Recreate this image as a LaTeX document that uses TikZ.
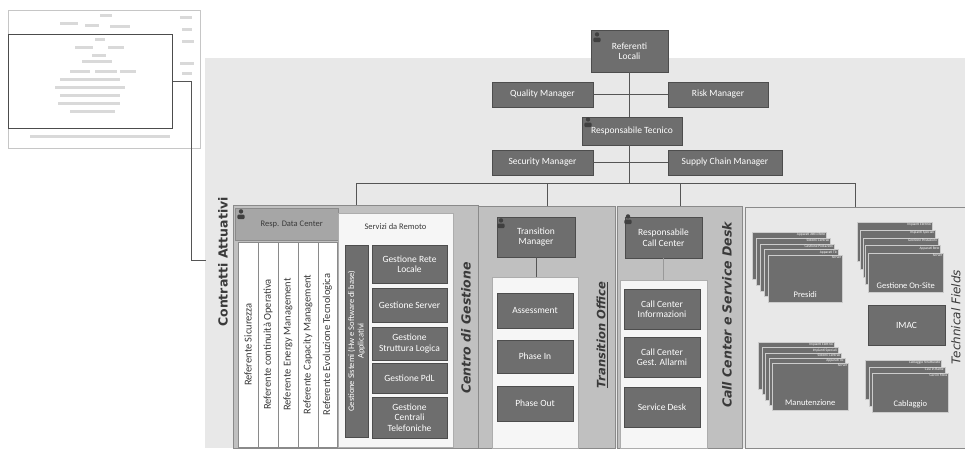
\documentclass[tikz,border=0pt]{standalone}
\usepackage{fontspec}
\setmainfont{Carlito}
\newfontfamily\titlefont{DejaVu Sans}
\definecolor{bgfill}{HTML}{E8E8E8}
\definecolor{boxfill}{HTML}{6E6E6E}
\definecolor{boxline}{HTML}{4D4D4D}
\definecolor{panelfill}{HTML}{C0C0C0}
\definecolor{panelline}{HTML}{8A8A8A}
\definecolor{headfill}{HTML}{A6A6A6}
\definecolor{wfill}{HTML}{F6F6F6}
\definecolor{txtdark}{HTML}{3A3A3A}
\definecolor{linec}{HTML}{555555}
\begin{document}
\begin{tikzpicture}[x=1pt,y=-1pt,
 dbox/.style={fill=boxfill,draw=boxline,line width=0.6pt,text=white,font=\fontsize{9.5}{10.5}\selectfont,align=center,inner sep=1pt},
 panel/.style={fill=panelfill,draw=panelline,line width=0.8pt,anchor=north west,inner sep=0pt},
 wpanel/.style={fill=wfill,draw=panelline!70,line width=0.5pt,anchor=north west,inner sep=0pt},
 colbox/.style={fill=white,draw=panelline,line width=0.5pt,rotate=90,text=txtdark,font=\fontsize{10.5}{11.5}\selectfont,inner sep=1pt},
 vtitle/.style={rotate=90,text=txtdark,inner sep=0pt},
 conn/.style={draw=linec,line width=0.7pt},
 card/.style={fill=boxfill,draw=white!80!black,line width=0.6pt,anchor=north west,inner sep=0pt},
 cardlab/.style={text=white,font=\fontsize{3.6}{4}\selectfont,inner sep=1.2pt,anchor=north east},
 cardmain/.style={text=white,font=\fontsize{8.5}{9.5}\selectfont,inner sep=0pt,anchor=south},
 tiny/.style={fill=gray!30},
 person/.pic={\fill[black!75] (0,-2.6) circle (2.2); \fill[black!75,rounded corners=1.2pt] (-3.6,5.2) rectangle (3.6,0.6);}
]
\useasboundingbox (0,0) rectangle (965,448);
\fill[white] (0,0) rectangle (965,448);
\fill[bgfill] (205,58) rectangle (965,448);

% ---------- thumbnail ----------
\node[draw=gray!45,line width=0.6pt,minimum width=192,minimum height=138,anchor=north west,inner sep=0pt] (thumbout) at (8,10) {};
\foreach \x/\y/\w in {100/14/12,60/22/18,85/24/14,110/25/20,
  95/38/10,75/46/18,108/46/16,92/54/14,82/60/30,70/70/20,95/70/22,120/70/16,
  60/78/60,55/86/70,60/94/60,58/102/62,70/110/45,
  180/16/12,182/28/10,182/40/12,180/62/14,182/72/10,30/135/140}
  \fill[tiny] (\x,\y) rectangle ++(\w,3);
\node[draw=black!70,line width=1.3pt,minimum width=164,minimum height=94,anchor=north west,inner sep=0pt] (thumb) at (8,34) {};
\coordinate (ca) at (206,260);
\draw[conn,line width=1pt] (thumb.east) -- ++(18,0) |- (ca);
\node[rotate=90,text=txtdark,font=\titlefont\fontsize{12.5}{14}\bfseries\selectfont,inner sep=0pt] (contr) at (223,262) {Contratti Attuativi};

% ---------- top hierarchy ----------
\node[dbox,minimum width=77,minimum height=42] (refl) at (629.5,51) {Referenti\\Locali};
\node[dbox,minimum width=101,minimum height=25] (qm) at (542.5,94.5) {Quality Manager};
\node[dbox,minimum width=100,minimum height=25] (rm) at (718,94.5) {Risk Manager};
\node[dbox,minimum width=100,minimum height=28] (rt) at (632,131) {Responsabile Tecnico};
\node[dbox,minimum width=101,minimum height=25] (sm) at (542.5,162.5) {Security Manager};
\node[dbox,minimum width=114,minimum height=25] (scm) at (725,162.5) {Supply Chain Manager};
\coordinate (busy) at (0,183);

% ---------- panels ----------
\node[panel,minimum width=245,minimum height=243] (centro) at (233,205) {};
\node[panel,minimum width=137,minimum height=242] (trans) at (478,206) {};
\node[panel,minimum width=125,minimum height=242] (callc) at (617,206) {};
\node[panel,fill=bgfill,minimum width=220,minimum height=241] (techf) at (745,207) {};

\draw[conn] (qm) -- (rm);
\draw[conn] (sm) -- (scm);
\draw[conn] (refl.south) -- (refl.south |- rt.north);
\draw[conn] (refl.south |- rt.south) -- (refl.south |- busy);
\draw[conn] (centro.north) -- (centro.north |- busy) -- (techf.north |- busy) -- (techf.north);
\draw[conn] (trans.north) -- (trans.north |- busy);
\draw[conn] (callc.north) -- (callc.north |- busy);

% ---------- Centro di Gestione ----------
\node[fill=headfill,draw=panelline,anchor=north west,minimum width=103,minimum height=32,inner sep=0pt,font=\fontsize{8.5}{9.5}\selectfont,text=txtdark] (rdc) at (235,208) {\hspace{10pt}Resp. Data Center};
\foreach \cx/\w/\lbl [count=\i] in {248/20/Referente Sicurezza,268/20/Referente continuità Operativa,288/20/Referente Energy Management,308/20/Referente Capacity Management,327.5/19/Referente Evoluzione Tecnologica}
  \node[colbox,minimum width=205,minimum height=\w] (col\i) at (\cx,344.5) {\lbl};
\node[wpanel,minimum width=115,minimum height=234] (srem) at (338,213) {};
\node[font=\fontsize{8.5}{9.5}\selectfont,text=txtdark] (sremt) at (395.5,227) {Servizi da Remoto};
\node[dbox,rotate=90,minimum width=192,minimum height=23,font=\fontsize{8.5}{9.5}\selectfont] (gsis) at (356.5,341) {Gestione Sistemi (Hw e Software di base)\\Applicativi};
\node[dbox,minimum width=75,minimum height=38] (g1) at (409.5,264) {Gestione Rete\\Locale};
\node[dbox,minimum width=75,minimum height=34] (g2) at (409.5,305) {Gestione Server};
\node[dbox,minimum width=75,minimum height=33] (g3) at (409.5,343.5) {Gestione\\Struttura Logica};
\node[dbox,minimum width=75,minimum height=30] (g4) at (409.5,378) {Gestione PdL};
\node[dbox,minimum width=75,minimum height=41] (g5) at (409.5,417.5) {Gestione\\Centrali\\Telefoniche};
\node[vtitle,font=\titlefont\fontsize{12.5}{14}\bfseries\itshape\selectfont] (centrot) at (466,328) {Centro di Gestione};

% ---------- Transition Office ----------
\node[dbox,minimum width=78,minimum height=40] (tm) at (536,237) {Transition\\Manager};
\node[wpanel,minimum width=86,minimum height=171] (tw) at (492,277) {};
\draw[conn] (tm.south) -- (tm.south |- tw.north);
\node[dbox,minimum width=76,minimum height=35] (ass) at (535,310.5) {Assessment};
\node[dbox,minimum width=76,minimum height=33] (pin) at (535,356.5) {Phase In};
\node[dbox,minimum width=76,minimum height=35] (pout) at (535,403.5) {Phase Out};
\node[vtitle,font=\titlefont\fontsize{11.5}{13}\bfseries\itshape\selectfont] (transt) at (602,335) {\underline{Transition Office}};

% ---------- Call Center ----------
\node[dbox,minimum width=77,minimum height=41] (rcc) at (663.5,237.5) {Responsabile\\Call Center};
\node[wpanel,minimum width=87,minimum height=168] (cw) at (620,280) {};
\draw[conn,draw=linec!60] (rcc.south) -- (rcc.south |- cw.north);
\node[dbox,minimum width=76,minimum height=40] (cc1) at (662,309) {Call Center\\Informazioni};
\node[dbox,minimum width=76,minimum height=40] (cc2) at (662,357) {Call Center\\Gest. Allarmi};
\node[dbox,minimum width=76,minimum height=40] (cc3) at (662,407) {Service Desk};
\node[vtitle,font=\titlefont\fontsize{12.5}{14}\bfseries\itshape\selectfont] (cct) at (727,315) {Call Center e Service Desk};

% ---------- Technical Fields ----------
\foreach \lbl [count=\i from 0] in {Apparati Attivi Rete,Sistemi Centrali,Gestione Postazioni,Apparati Tlc,Server}{
  \node[card,minimum width=74,minimum height=47] (pre\i) at ({752+4*\i},{232+5.75*\i}) {};
  \node[cardlab] at (pre\i.north east) {\lbl};
}
\node[cardmain] (pret) at ([yshift=5pt]pre4.south) {Presidi};
\foreach \lbl [count=\i from 0] in {Impianti Elettrici,Impianti Speciali,Gestione Postazioni,Apparati Rete,Server}{
  \node[card,minimum width=75,minimum height=39] (gos\i) at ({857+2.75*\i},{222+7.75*\i}) {};
  \node[cardlab] at (gos\i.north east) {\lbl};
}
\node[cardmain] (gost) at ([yshift=4pt]gos4.south) {Gestione On-Site};
\node[dbox,minimum width=77,minimum height=40] (imac) at (906.5,325) {IMAC};
\foreach \lbl [count=\i from 0] in {Impianti Elettrici,Impianti Speciali,Sistemi Centrali,Apparati Tlc,Server}{
  \node[card,minimum width=76,minimum height=47] (man\i) at ({758+3.5*\i},{342+5.25*\i}) {};
  \node[cardlab] at (man\i.north east) {\lbl};
}
\node[cardmain] (mant) at ([yshift=5pt]man4.south) {Manutenzione};
\foreach \lbl [count=\i from 0] in {Cablaggio Strutturato,Cavi in Rame,Cavi in Fibra}{
  \node[card,minimum width=76,minimum height=39] (cab\i) at ({865+3.5*\i},{360+6.5*\i}) {};
  \node[cardlab] at (cab\i.north east) {\lbl};
}
\node[cardmain] (cabt) at ([yshift=4pt]cab2.south) {Cablaggio};
\node[vtitle,font=\titlefont\fontsize{12}{13}\itshape\selectfont] (tft) at (956,317) {Technical Fields};

% ---------- person icons ----------
\pic at (597,37) {person};
\pic at (588,122) {person};
\pic at (241,214) {person};
\pic at (501,223) {person};
\pic at (628,219) {person};
\end{tikzpicture}
\end{document}
